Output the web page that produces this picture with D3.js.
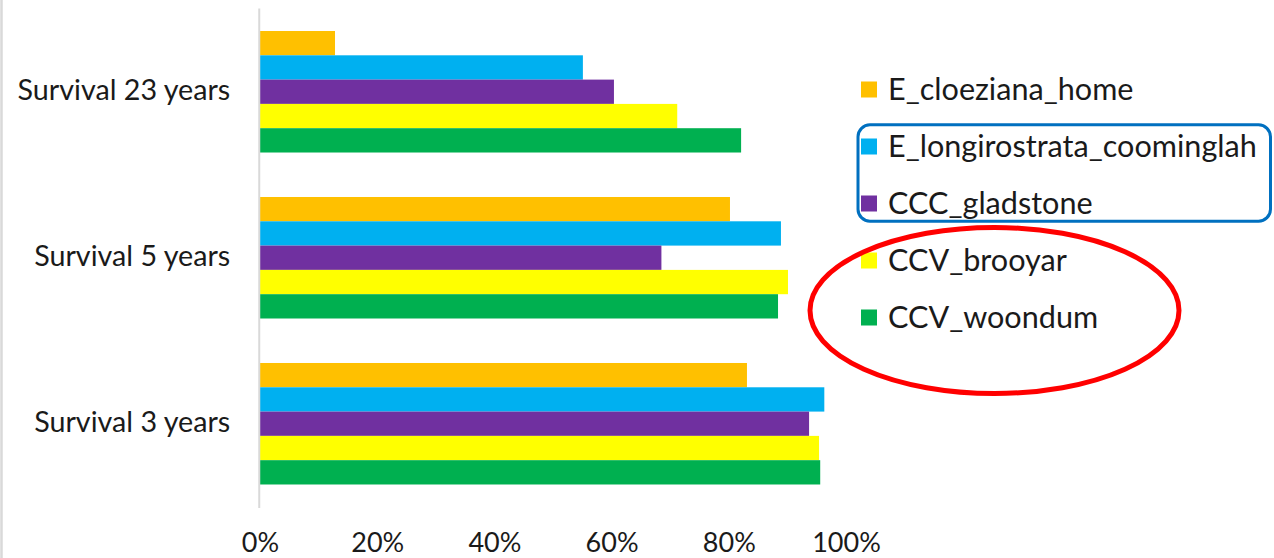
<!DOCTYPE html>
<html>
<head>
<meta charset="utf-8">
<script src="https://cdn.jsdelivr.net/npm/d3@7/dist/d3.min.js"></script>
<style>
  html, body { margin: 0; padding: 0; background: #fff; }
  svg { display: block; }
  text { font-family: Lato, "Open Sans", sans-serif; fill: #1a1a1a; }
</style>
</head>
<body>
<svg id="chart" width="1274" height="558"></svg>
<script>
// ---- data ----
const categories = ["Survival 23 years", "Survival 5 years", "Survival 3 years"];
const seriesNames = ["E_cloeziana_home", "E_longirostrata_coominglah", "CCC_gladstone", "CCV_brooyar", "CCV_woondum"];
const seriesColors = ["#FFC000", "#00B0F0", "#7030A0", "#FFFF00", "#00B050"];
const E_cloeziana_home = [0.128, 0.802, 0.831];
const E_longirostrata_coominglah = [0.551, 0.889, 0.963];
const CCC_gladstone = [0.604, 0.685, 0.937];
const CCV_brooyar = [0.712, 0.901, 0.954];
const CCV_woondum = [0.821, 0.884, 0.956];
const tickValues = [0, 0.2, 0.4, 0.6, 0.8, 1.0];

const seriesValues = [E_cloeziana_home, E_longirostrata_coominglah, CCC_gladstone, CCV_brooyar, CCV_woondum];

const svg = d3.select("#chart");

// left frame edge
svg.append("line")
  .attr("x1", 1.5).attr("x2", 1.5).attr("y1", 0).attr("y2", 558)
  .attr("stroke", "#d9d9d9").attr("stroke-width", 2.5);

const x = d3.scaleLinear().domain([0, 1]).range([260, 846]);
const y = d3.scaleBand().domain(categories).range([8, 507.5])
  .paddingInner(0.268).paddingOuter(0.1386);
const ySub = d3.scaleBand().domain(seriesNames).range([0, y.bandwidth()]).padding(0);
const color = d3.scaleOrdinal().domain(seriesNames).range(seriesColors);

// bars
const groups = svg.append("g").selectAll("g")
  .data(categories)
  .join("g")
  .attr("transform", d => `translate(0,${y(d)})`);

groups.selectAll("rect")
  .data((c, ci) => seriesNames.map((s, si) => ({ s, v: seriesValues[si][ci] })))
  .join("rect")
  .attr("x", x(0))
  .attr("y", d => ySub(d.s))
  .attr("width", d => x(d.v) - x(0))
  .attr("height", ySub.bandwidth())
  .attr("fill", d => color(d.s));

// y axis (category)
const yAxis = svg.append("g")
  .attr("transform", `translate(${x(0) - 1.25},0)`)
  .call(d3.axisLeft(y).tickSize(0).tickSizeOuter(0).tickPadding(28.5));
yAxis.select(".domain").attr("stroke", "#d9d9d9").attr("stroke-width", 2);
yAxis.selectAll("text")
  .attr("font-size", 28.7)
  .attr("font-family", "Lato, sans-serif")
  .attr("fill", "#1a1a1a")
  .attr("dy", "0.3em");

// x axis
const xAxis = svg.append("g")
  .attr("transform", `translate(0,552)`)
  .call(d3.axisBottom(x).tickValues(tickValues).tickFormat(d3.format(".0%")).tickSize(0).tickPadding(0));
xAxis.select(".domain").remove();
xAxis.selectAll("text")
  .attr("font-size", 27)
  .attr("font-family", "Lato, sans-serif")
  .attr("fill", "#1a1a1a")
  .attr("y", 0)
  .attr("dy", 0);

// legend
const legend = svg.append("g").selectAll("g")
  .data(seriesNames)
  .join("g")
  .attr("transform", (d, i) => `translate(861,${89.5 + i * 57})`);
legend.append("rect")
  .attr("x", 0).attr("y", -8).attr("width", 16).attr("height", 16)
  .attr("fill", d => color(d));
legend.append("text")
  .attr("x", 27).attr("y", 0).attr("dy", "0.34em")
  .attr("font-size", 30.6)
  .text(d => d);

// annotations
svg.append("rect")
  .attr("x", 858).attr("y", 124.8).attr("width", 412.5).attr("height", 96.4)
  .attr("rx", 12).attr("ry", 12)
  .attr("fill", "none").attr("stroke", "#0070C0").attr("stroke-width", 3);

svg.append("ellipse")
  .attr("cx", 994.5).attr("cy", 310.5).attr("rx", 184.5).attr("ry", 83)
  .attr("fill", "none").attr("stroke", "#FF0000").attr("stroke-width", 5);
</script>
</body>
</html>
